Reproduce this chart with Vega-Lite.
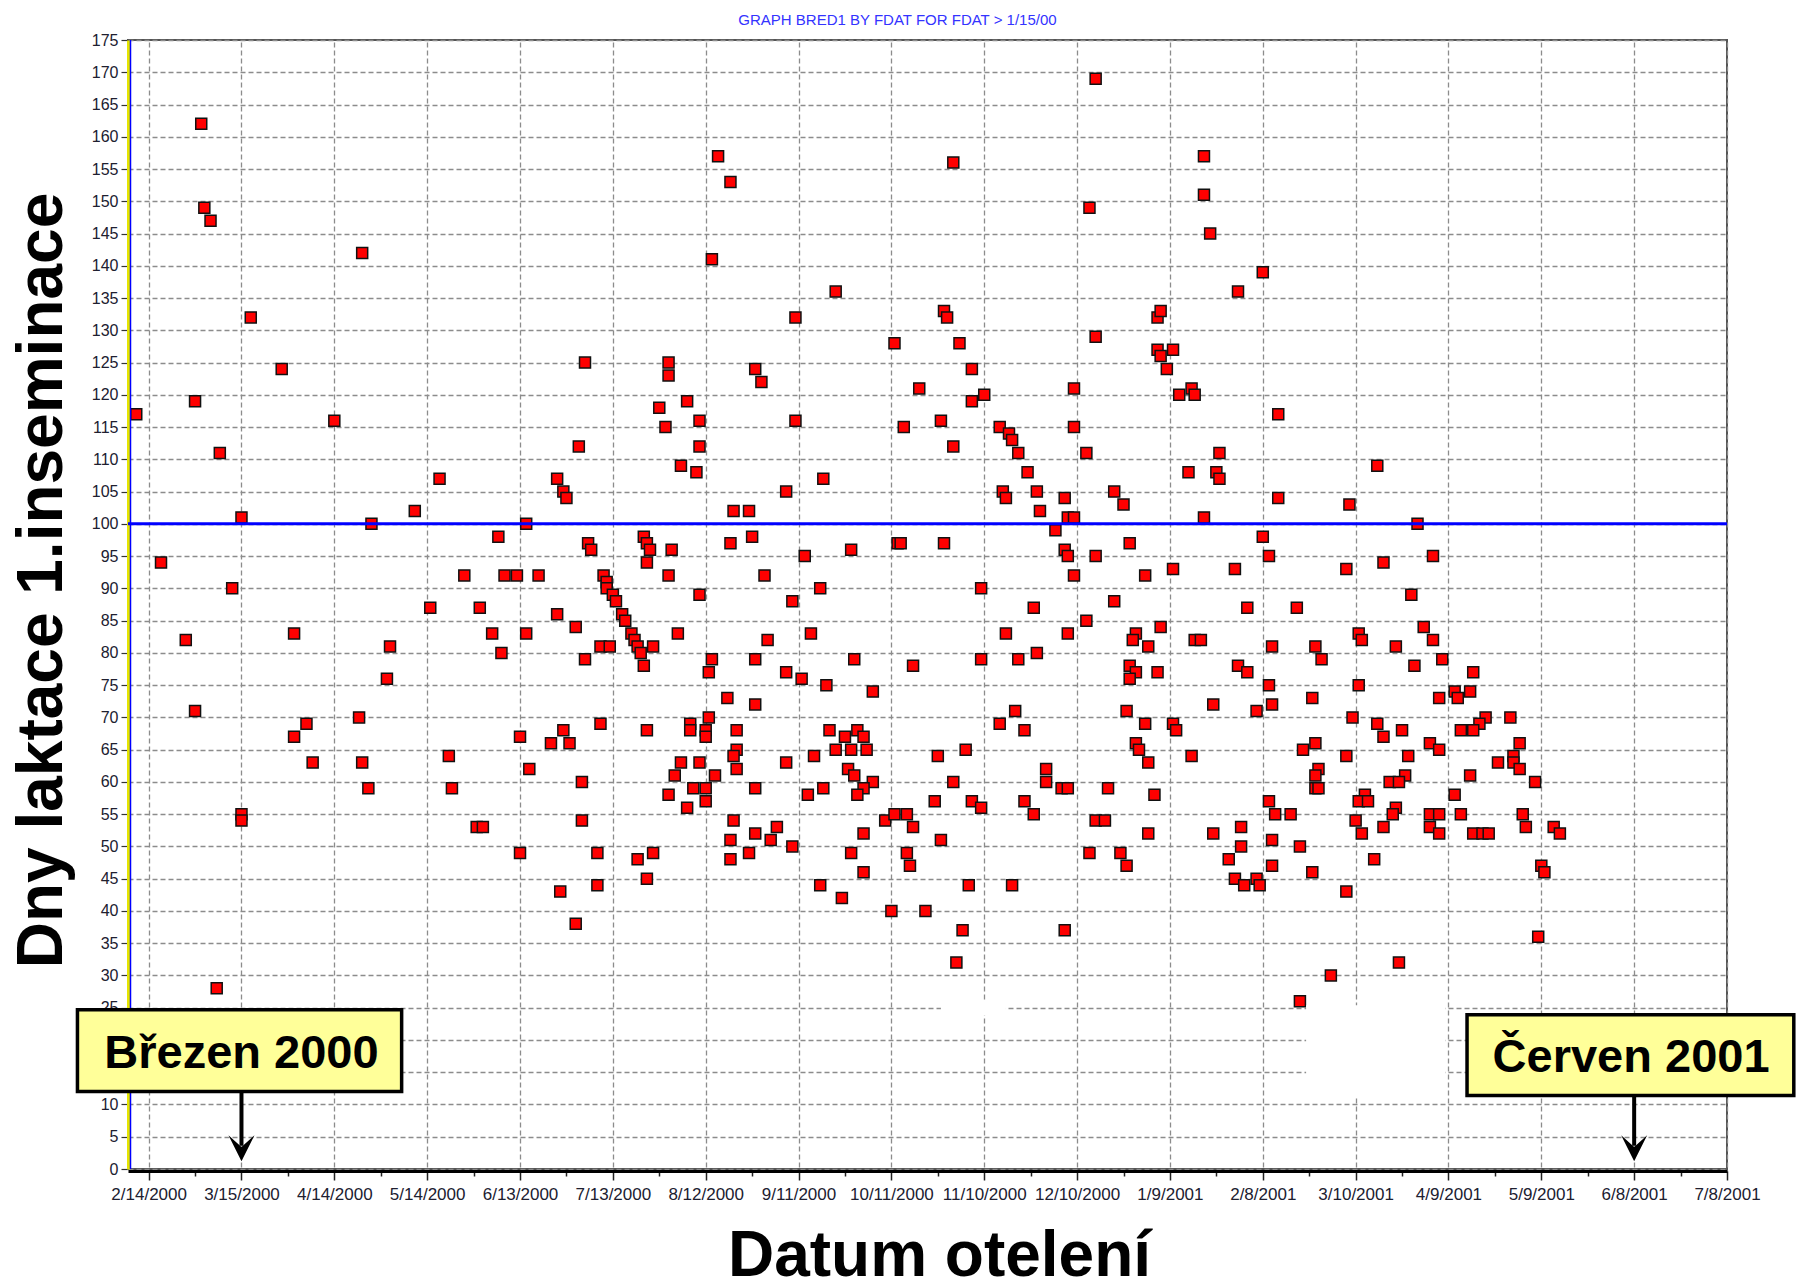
{
  "$schema": "https://vega.github.io/schema/vega-lite/v6.json",
  "width": 1599,
  "height": 1129,
  "autosize": {"type": "none"},
  "padding": {"left": 128, "top": 40, "right": 69, "bottom": 116},
  "background": "white",
  "config": {
    "view": {"stroke": "#555555", "strokeWidth": 2},
    "font": "Liberation Sans",
    "axis": {"labelOverlap": false, "labelFlush": false, "labelBound": false},
    "axisX": {
      "labelFont": "Liberation Sans Narrow, Liberation Sans", "labelFontSize": 17, "labelColor": "#202030", "labelPadding": 6,
      "tickColor": "#222222", "tickWidth": 1.5, "grid": true, "gridColor": "#8c8c8c", "gridDash": [5, 3], "gridWidth": 1.3,
      "domainColor": "#000000", "domainWidth": 3, "offset": 2,
      "titleFont": "Liberation Sans", "titleFontSize": 64, "titleFontWeight": "bold", "titleColor": "#000000"
    },
    "axisY": {
      "labelFont": "Liberation Sans Narrow, Liberation Sans", "labelFontSize": 16, "labelColor": "#202030", "labelPadding": 3,
      "tickSize": 7, "tickColor": "#333333", "tickWidth": 1.2, "grid": true, "gridColor": "#8c8c8c", "gridDash": [5, 3], "gridWidth": 1.3,
      "domainColor": "#e5e500", "domainWidth": 3,
      "titleFont": "Liberation Sans", "titleFontSize": 64, "titleFontWeight": "bold", "titleColor": "#000000"
    }
  },
  "title": {
    "text": "GRAPH BRED1 BY FDAT FOR FDAT > 1/15/00",
    "frame": "group",
    "anchor": "middle",
    "dx": -30,
    "offset": -8,
    "baseline": "alphabetic",
    "fontSize": 15,
    "fontWeight": "normal",
    "color": "#3333ff",
    "font": "Liberation Sans Narrow, Liberation Sans"
  },
  "data": {
    "values": [
      {"datum": "2000-03-02", "dny": 162}, {"datum": "2000-03-03", "dny": 149}, {"datum": "2000-03-05", "dny": 147}, {"datum": "2000-04-23", "dny": 142},
      {"datum": "2000-03-18", "dny": 132}, {"datum": "2000-03-28", "dny": 124}, {"datum": "2000-02-29", "dny": 119}, {"datum": "2000-02-10", "dny": 117},
      {"datum": "2000-04-14", "dny": 116}, {"datum": "2000-03-08", "dny": 111}, {"datum": "2000-05-18", "dny": 107}, {"datum": "2000-05-10", "dny": 102},
      {"datum": "2000-03-15", "dny": 101}, {"datum": "2000-04-26", "dny": 100}, {"datum": "2000-06-06", "dny": 98},
      {"datum": "2000-02-18", "dny": 94}, {"datum": "2000-05-26", "dny": 92}, {"datum": "2000-06-08", "dny": 92}, {"datum": "2000-06-12", "dny": 92},
      {"datum": "2000-03-12", "dny": 90}, {"datum": "2000-05-15", "dny": 87}, {"datum": "2000-05-31", "dny": 87}, {"datum": "2000-04-01", "dny": 83},
      {"datum": "2000-02-26", "dny": 82}, {"datum": "2000-06-04", "dny": 83}, {"datum": "2000-05-02", "dny": 81}, {"datum": "2000-06-07", "dny": 80},
      {"datum": "2000-05-01", "dny": 76}, {"datum": "2000-02-29", "dny": 71}, {"datum": "2000-04-22", "dny": 70}, {"datum": "2000-04-05", "dny": 69},
      {"datum": "2000-04-01", "dny": 67}, {"datum": "2000-06-13", "dny": 67}, {"datum": "2000-04-07", "dny": 63}, {"datum": "2000-04-23", "dny": 63},
      {"datum": "2000-05-21", "dny": 64}, {"datum": "2000-04-25", "dny": 59}, {"datum": "2000-05-22", "dny": 59}, {"datum": "2000-03-15", "dny": 55},
      {"datum": "2000-03-15", "dny": 54}, {"datum": "2000-05-30", "dny": 53}, {"datum": "2000-06-01", "dny": 53}, {"datum": "2000-06-13", "dny": 49},
      {"datum": "2000-03-07", "dny": 28},
      {"datum": "2000-08-16", "dny": 157}, {"datum": "2000-08-20", "dny": 153}, {"datum": "2000-08-14", "dny": 141}, {"datum": "2000-09-23", "dny": 136},
      {"datum": "2000-09-10", "dny": 132}, {"datum": "2000-10-12", "dny": 128}, {"datum": "2000-07-04", "dny": 125}, {"datum": "2000-07-31", "dny": 125},
      {"datum": "2000-07-31", "dny": 123}, {"datum": "2000-08-28", "dny": 124}, {"datum": "2000-08-30", "dny": 122}, {"datum": "2000-08-06", "dny": 119},
      {"datum": "2000-07-28", "dny": 118}, {"datum": "2000-07-30", "dny": 115}, {"datum": "2000-08-10", "dny": 116}, {"datum": "2000-09-10", "dny": 116},
      {"datum": "2000-10-15", "dny": 115}, {"datum": "2000-07-02", "dny": 112}, {"datum": "2000-08-10", "dny": 112}, {"datum": "2000-08-04", "dny": 109},
      {"datum": "2000-08-09", "dny": 108}, {"datum": "2000-06-25", "dny": 107}, {"datum": "2000-06-27", "dny": 105}, {"datum": "2000-06-28", "dny": 104},
      {"datum": "2000-09-19", "dny": 107}, {"datum": "2000-09-07", "dny": 105}, {"datum": "2000-08-21", "dny": 102}, {"datum": "2000-08-26", "dny": 102},
      {"datum": "2000-06-15", "dny": 100},
      {"datum": "2000-07-05", "dny": 97}, {"datum": "2000-07-06", "dny": 96}, {"datum": "2000-07-23", "dny": 98}, {"datum": "2000-07-24", "dny": 97},
      {"datum": "2000-07-25", "dny": 96}, {"datum": "2000-07-24", "dny": 94}, {"datum": "2000-08-01", "dny": 96}, {"datum": "2000-08-20", "dny": 97},
      {"datum": "2000-08-27", "dny": 98}, {"datum": "2000-09-13", "dny": 95}, {"datum": "2000-09-28", "dny": 96}, {"datum": "2000-10-13", "dny": 97},
      {"datum": "2000-06-19", "dny": 92}, {"datum": "2000-07-10", "dny": 92}, {"datum": "2000-07-11", "dny": 91}, {"datum": "2000-07-11", "dny": 90},
      {"datum": "2000-07-31", "dny": 92}, {"datum": "2000-08-31", "dny": 92}, {"datum": "2000-07-13", "dny": 89}, {"datum": "2000-07-14", "dny": 88},
      {"datum": "2000-07-16", "dny": 86}, {"datum": "2000-07-17", "dny": 85}, {"datum": "2000-07-19", "dny": 83}, {"datum": "2000-07-20", "dny": 82},
      {"datum": "2000-07-21", "dny": 81}, {"datum": "2000-07-22", "dny": 80}, {"datum": "2000-07-23", "dny": 78}, {"datum": "2000-07-26", "dny": 81},
      {"datum": "2000-07-09", "dny": 81}, {"datum": "2000-07-12", "dny": 81}, {"datum": "2000-08-10", "dny": 89}, {"datum": "2000-06-25", "dny": 86},
      {"datum": "2000-07-01", "dny": 84}, {"datum": "2000-06-15", "dny": 83}, {"datum": "2000-08-03", "dny": 83}, {"datum": "2000-07-04", "dny": 79},
      {"datum": "2000-08-14", "dny": 79}, {"datum": "2000-08-13", "dny": 77}, {"datum": "2000-08-28", "dny": 79}, {"datum": "2000-09-01", "dny": 82},
      {"datum": "2000-09-09", "dny": 88}, {"datum": "2000-09-18", "dny": 90}, {"datum": "2000-09-15", "dny": 83}, {"datum": "2000-09-29", "dny": 79},
      {"datum": "2000-09-07", "dny": 77}, {"datum": "2000-09-12", "dny": 76}, {"datum": "2000-09-20", "dny": 75}, {"datum": "2000-10-05", "dny": 74},
      {"datum": "2000-08-19", "dny": 73}, {"datum": "2000-08-28", "dny": 72}, {"datum": "2000-07-09", "dny": 69}, {"datum": "2000-06-27", "dny": 68},
      {"datum": "2000-06-23", "dny": 66}, {"datum": "2000-06-29", "dny": 66}, {"datum": "2000-07-24", "dny": 68}, {"datum": "2000-08-07", "dny": 69},
      {"datum": "2000-08-07", "dny": 68}, {"datum": "2000-08-13", "dny": 70}, {"datum": "2000-08-12", "dny": 68}, {"datum": "2000-08-12", "dny": 67},
      {"datum": "2000-08-22", "dny": 68}, {"datum": "2000-08-22", "dny": 65}, {"datum": "2000-08-21", "dny": 64}, {"datum": "2000-08-22", "dny": 62},
      {"datum": "2000-08-04", "dny": 63}, {"datum": "2000-08-10", "dny": 63}, {"datum": "2000-08-02", "dny": 61}, {"datum": "2000-08-15", "dny": 61},
      {"datum": "2000-08-08", "dny": 59}, {"datum": "2000-08-12", "dny": 59}, {"datum": "2000-07-31", "dny": 58}, {"datum": "2000-08-12", "dny": 57},
      {"datum": "2000-08-06", "dny": 56}, {"datum": "2000-06-16", "dny": 62}, {"datum": "2000-07-03", "dny": 60}, {"datum": "2000-08-28", "dny": 59},
      {"datum": "2000-09-07", "dny": 63}, {"datum": "2000-09-16", "dny": 64}, {"datum": "2000-09-21", "dny": 68}, {"datum": "2000-09-26", "dny": 67},
      {"datum": "2000-09-30", "dny": 68}, {"datum": "2000-10-02", "dny": 67}, {"datum": "2000-09-23", "dny": 65}, {"datum": "2000-09-28", "dny": 65},
      {"datum": "2000-10-03", "dny": 65}, {"datum": "2000-09-27", "dny": 62}, {"datum": "2000-09-29", "dny": 61}, {"datum": "2000-10-05", "dny": 60},
      {"datum": "2000-10-02", "dny": 59}, {"datum": "2000-09-30", "dny": 58}, {"datum": "2000-09-19", "dny": 59}, {"datum": "2000-09-14", "dny": 58},
      {"datum": "2000-07-03", "dny": 54}, {"datum": "2000-08-21", "dny": 54}, {"datum": "2000-10-09", "dny": 54}, {"datum": "2000-10-12", "dny": 55},
      {"datum": "2000-08-28", "dny": 52}, {"datum": "2000-09-04", "dny": 53}, {"datum": "2000-08-20", "dny": 51}, {"datum": "2000-09-02", "dny": 51},
      {"datum": "2000-09-09", "dny": 50}, {"datum": "2000-10-02", "dny": 52}, {"datum": "2000-08-26", "dny": 49}, {"datum": "2000-08-20", "dny": 48},
      {"datum": "2000-07-08", "dny": 49}, {"datum": "2000-07-21", "dny": 48}, {"datum": "2000-07-26", "dny": 49}, {"datum": "2000-07-24", "dny": 45},
      {"datum": "2000-06-26", "dny": 43}, {"datum": "2000-07-08", "dny": 44}, {"datum": "2000-07-01", "dny": 38}, {"datum": "2000-09-28", "dny": 49},
      {"datum": "2000-10-02", "dny": 46}, {"datum": "2000-09-18", "dny": 44}, {"datum": "2000-09-25", "dny": 42}, {"datum": "2000-10-11", "dny": 40},
      {"datum": "2000-12-16", "dny": 169}, {"datum": "2000-10-31", "dny": 156}, {"datum": "2001-01-20", "dny": 157}, {"datum": "2001-01-20", "dny": 151},
      {"datum": "2000-12-14", "dny": 149}, {"datum": "2001-01-22", "dny": 145}, {"datum": "2001-02-08", "dny": 139}, {"datum": "2001-01-31", "dny": 136},
      {"datum": "2000-10-28", "dny": 133}, {"datum": "2000-10-29", "dny": 132}, {"datum": "2000-11-02", "dny": 128}, {"datum": "2000-11-06", "dny": 124},
      {"datum": "2000-10-20", "dny": 121}, {"datum": "2000-11-06", "dny": 119}, {"datum": "2000-11-10", "dny": 120}, {"datum": "2000-10-27", "dny": 116},
      {"datum": "2000-10-31", "dny": 112}, {"datum": "2000-11-15", "dny": 115}, {"datum": "2000-11-18", "dny": 114}, {"datum": "2000-11-19", "dny": 113},
      {"datum": "2000-11-21", "dny": 111}, {"datum": "2000-11-24", "dny": 108}, {"datum": "2000-11-16", "dny": 105}, {"datum": "2000-11-17", "dny": 104},
      {"datum": "2000-11-27", "dny": 105}, {"datum": "2000-11-28", "dny": 102}, {"datum": "2000-12-06", "dny": 104}, {"datum": "2000-12-07", "dny": 101},
      {"datum": "2000-12-09", "dny": 101}, {"datum": "2000-12-03", "dny": 99}, {"datum": "2000-12-09", "dny": 121}, {"datum": "2000-12-09", "dny": 115},
      {"datum": "2000-12-13", "dny": 111}, {"datum": "2000-12-16", "dny": 129}, {"datum": "2000-12-22", "dny": 105}, {"datum": "2000-12-25", "dny": 103},
      {"datum": "2001-01-05", "dny": 132}, {"datum": "2001-01-06", "dny": 133}, {"datum": "2001-01-05", "dny": 127}, {"datum": "2001-01-10", "dny": 127},
      {"datum": "2001-01-06", "dny": 126}, {"datum": "2001-01-08", "dny": 124}, {"datum": "2001-01-12", "dny": 120}, {"datum": "2001-01-16", "dny": 121},
      {"datum": "2001-01-17", "dny": 120}, {"datum": "2001-02-13", "dny": 117}, {"datum": "2001-01-25", "dny": 111}, {"datum": "2001-01-15", "dny": 108},
      {"datum": "2001-01-24", "dny": 108}, {"datum": "2001-01-25", "dny": 107}, {"datum": "2001-01-20", "dny": 101}, {"datum": "2001-02-13", "dny": 104},
      {"datum": "2000-10-14", "dny": 97}, {"datum": "2000-10-28", "dny": 97}, {"datum": "2000-12-06", "dny": 96}, {"datum": "2000-12-07", "dny": 95},
      {"datum": "2000-12-09", "dny": 92}, {"datum": "2000-12-16", "dny": 95}, {"datum": "2000-12-27", "dny": 97}, {"datum": "2001-01-01", "dny": 92},
      {"datum": "2001-01-10", "dny": 93}, {"datum": "2001-02-08", "dny": 98}, {"datum": "2001-01-30", "dny": 93}, {"datum": "2001-02-10", "dny": 95},
      {"datum": "2000-11-09", "dny": 90}, {"datum": "2000-11-26", "dny": 87}, {"datum": "2000-12-22", "dny": 88}, {"datum": "2001-02-03", "dny": 87},
      {"datum": "2000-11-17", "dny": 83}, {"datum": "2000-12-07", "dny": 83}, {"datum": "2000-12-13", "dny": 85}, {"datum": "2000-12-29", "dny": 83},
      {"datum": "2000-12-28", "dny": 82}, {"datum": "2001-01-02", "dny": 81}, {"datum": "2001-01-06", "dny": 84}, {"datum": "2001-01-17", "dny": 82},
      {"datum": "2001-01-19", "dny": 82}, {"datum": "2001-02-11", "dny": 81}, {"datum": "2000-10-18", "dny": 78}, {"datum": "2000-11-09", "dny": 79},
      {"datum": "2000-11-21", "dny": 79}, {"datum": "2000-11-27", "dny": 80}, {"datum": "2000-12-27", "dny": 78}, {"datum": "2000-12-29", "dny": 77},
      {"datum": "2000-12-27", "dny": 76}, {"datum": "2001-01-05", "dny": 77}, {"datum": "2001-01-31", "dny": 78}, {"datum": "2001-02-03", "dny": 77},
      {"datum": "2001-02-10", "dny": 75}, {"datum": "2001-01-23", "dny": 72}, {"datum": "2001-02-06", "dny": 71}, {"datum": "2001-02-11", "dny": 72},
      {"datum": "2000-11-20", "dny": 71}, {"datum": "2000-11-15", "dny": 69}, {"datum": "2000-11-23", "dny": 68}, {"datum": "2000-12-26", "dny": 71},
      {"datum": "2001-01-01", "dny": 69}, {"datum": "2001-01-10", "dny": 69}, {"datum": "2001-01-11", "dny": 68}, {"datum": "2000-12-29", "dny": 66},
      {"datum": "2000-12-30", "dny": 65}, {"datum": "2001-01-02", "dny": 63}, {"datum": "2001-01-16", "dny": 64}, {"datum": "2000-10-26", "dny": 64},
      {"datum": "2000-11-04", "dny": 65}, {"datum": "2000-11-30", "dny": 62}, {"datum": "2000-11-30", "dny": 60}, {"datum": "2000-10-31", "dny": 60},
      {"datum": "2000-12-05", "dny": 59}, {"datum": "2000-12-07", "dny": 59}, {"datum": "2000-12-20", "dny": 59}, {"datum": "2001-01-04", "dny": 58},
      {"datum": "2000-10-25", "dny": 57}, {"datum": "2000-11-06", "dny": 57}, {"datum": "2000-11-09", "dny": 56}, {"datum": "2000-11-23", "dny": 57},
      {"datum": "2000-11-26", "dny": 55}, {"datum": "2000-10-16", "dny": 55}, {"datum": "2000-10-18", "dny": 53}, {"datum": "2000-10-27", "dny": 51},
      {"datum": "2000-10-16", "dny": 49}, {"datum": "2000-10-17", "dny": 47}, {"datum": "2000-11-05", "dny": 44}, {"datum": "2000-11-19", "dny": 44},
      {"datum": "2000-10-22", "dny": 40}, {"datum": "2000-11-03", "dny": 37}, {"datum": "2000-11-01", "dny": 32}, {"datum": "2000-12-06", "dny": 37},
      {"datum": "2000-12-16", "dny": 54}, {"datum": "2000-12-19", "dny": 54}, {"datum": "2001-01-02", "dny": 52}, {"datum": "2000-12-14", "dny": 49},
      {"datum": "2000-12-24", "dny": 49}, {"datum": "2000-12-26", "dny": 47}, {"datum": "2001-01-23", "dny": 52}, {"datum": "2001-02-01", "dny": 53},
      {"datum": "2001-02-01", "dny": 50}, {"datum": "2001-01-28", "dny": 48}, {"datum": "2001-01-30", "dny": 45}, {"datum": "2001-02-02", "dny": 44},
      {"datum": "2001-02-06", "dny": 45}, {"datum": "2001-02-07", "dny": 44}, {"datum": "2001-02-10", "dny": 57}, {"datum": "2001-02-12", "dny": 55},
      {"datum": "2001-02-11", "dny": 51}, {"datum": "2001-02-11", "dny": 47},
      {"datum": "2001-03-17", "dny": 109}, {"datum": "2001-03-08", "dny": 103}, {"datum": "2001-03-30", "dny": 100},
      {"datum": "2001-03-07", "dny": 93}, {"datum": "2001-03-19", "dny": 94}, {"datum": "2001-04-04", "dny": 95}, {"datum": "2001-03-28", "dny": 89},
      {"datum": "2001-02-19", "dny": 87}, {"datum": "2001-03-11", "dny": 83}, {"datum": "2001-03-12", "dny": 82}, {"datum": "2001-04-01", "dny": 84},
      {"datum": "2001-04-04", "dny": 82}, {"datum": "2001-02-25", "dny": 81}, {"datum": "2001-02-27", "dny": 79}, {"datum": "2001-03-23", "dny": 81},
      {"datum": "2001-03-29", "dny": 78}, {"datum": "2001-04-07", "dny": 79}, {"datum": "2001-04-17", "dny": 77}, {"datum": "2001-03-11", "dny": 75},
      {"datum": "2001-02-24", "dny": 73}, {"datum": "2001-04-06", "dny": 73}, {"datum": "2001-04-11", "dny": 74}, {"datum": "2001-04-12", "dny": 73},
      {"datum": "2001-04-16", "dny": 74}, {"datum": "2001-03-09", "dny": 70}, {"datum": "2001-03-17", "dny": 69}, {"datum": "2001-03-19", "dny": 67},
      {"datum": "2001-03-25", "dny": 68}, {"datum": "2001-04-21", "dny": 70}, {"datum": "2001-04-19", "dny": 69}, {"datum": "2001-04-13", "dny": 68},
      {"datum": "2001-04-17", "dny": 68}, {"datum": "2001-04-29", "dny": 70}, {"datum": "2001-02-25", "dny": 66}, {"datum": "2001-02-21", "dny": 65},
      {"datum": "2001-03-07", "dny": 64}, {"datum": "2001-04-03", "dny": 66}, {"datum": "2001-04-06", "dny": 65}, {"datum": "2001-03-27", "dny": 64},
      {"datum": "2001-05-02", "dny": 66}, {"datum": "2001-04-30", "dny": 64}, {"datum": "2001-04-30", "dny": 63}, {"datum": "2001-05-02", "dny": 62},
      {"datum": "2001-04-25", "dny": 63}, {"datum": "2001-05-07", "dny": 60}, {"datum": "2001-02-26", "dny": 62}, {"datum": "2001-02-25", "dny": 61},
      {"datum": "2001-02-25", "dny": 59}, {"datum": "2001-02-26", "dny": 59}, {"datum": "2001-03-26", "dny": 61}, {"datum": "2001-03-21", "dny": 60},
      {"datum": "2001-03-24", "dny": 60}, {"datum": "2001-04-16", "dny": 61}, {"datum": "2001-04-11", "dny": 58}, {"datum": "2001-02-17", "dny": 55},
      {"datum": "2001-02-20", "dny": 50}, {"datum": "2001-02-24", "dny": 46}, {"datum": "2001-03-07", "dny": 43}, {"datum": "2001-03-13", "dny": 58},
      {"datum": "2001-03-11", "dny": 57}, {"datum": "2001-03-14", "dny": 57}, {"datum": "2001-03-10", "dny": 54}, {"datum": "2001-03-12", "dny": 52},
      {"datum": "2001-03-23", "dny": 56}, {"datum": "2001-03-22", "dny": 55}, {"datum": "2001-03-19", "dny": 53}, {"datum": "2001-03-16", "dny": 48},
      {"datum": "2001-04-03", "dny": 55}, {"datum": "2001-04-06", "dny": 55}, {"datum": "2001-04-03", "dny": 53}, {"datum": "2001-04-06", "dny": 52},
      {"datum": "2001-04-13", "dny": 55}, {"datum": "2001-04-17", "dny": 52}, {"datum": "2001-04-20", "dny": 52}, {"datum": "2001-04-22", "dny": 52},
      {"datum": "2001-05-03", "dny": 55}, {"datum": "2001-05-04", "dny": 53}, {"datum": "2001-05-13", "dny": 53}, {"datum": "2001-05-15", "dny": 52},
      {"datum": "2001-05-09", "dny": 47}, {"datum": "2001-05-10", "dny": 46}, {"datum": "2001-05-08", "dny": 36}, {"datum": "2001-03-24", "dny": 32},
      {"datum": "2001-03-02", "dny": 30}, {"datum": "2001-02-20", "dny": 26}
    ]
  },
  "layer": [
    {
      "mark": {"type": "point", "shape": "square", "filled": true, "fill": "#ff0000", "stroke": "#111111", "strokeWidth": 1.5, "size": 121, "opacity": 1},
      "encoding": {
        "x": {
          "field": "datum", "type": "temporal",
          "scale": {"type": "utc", "domain": [{"year": 2000, "month": 2, "date": 7, "hours": 8, "utc": true}, {"year": 2001, "month": 7, "date": 8, "utc": true}]},
          "axis": {
            "values": [950486400000, 951134400000, 951782400000, 952430400000, 953078400000, 953726400000, 954374400000, 955022400000, 955670400000, 956318400000, 956966400000, 957614400000, 958262400000, 958910400000, 959558400000, 960206400000, 960854400000, 961502400000, 962150400000, 962798400000, 963446400000, 964094400000, 964742400000, 965390400000, 966038400000, 966686400000, 967334400000, 967982400000, 968630400000, 969278400000, 969926400000, 970574400000, 971222400000, 971870400000, 972518400000, 973166400000, 973814400000, 974462400000, 975110400000, 975758400000, 976406400000, 977054400000, 977702400000, 978350400000, 978998400000, 979646400000, 980294400000, 980942400000, 981590400000, 982238400000, 982886400000, 983534400000, 984182400000, 984830400000, 985478400000, 986126400000, 986774400000, 987422400000, 988070400000, 988718400000, 989366400000, 990014400000, 990662400000, 991310400000, 991958400000, 992606400000, 993254400000, 993902400000, 994550400000],
            "labelExpr": "((datum.value - 950486400000) % 2592000000 === 0) ? utcFormat(datum.value, '%-m/%-d/%Y') : ''",
            "labelOverlap": false,
            "tickSize": {"condition": {"test": "(datum.value - 950486400000) % 2592000000 === 0", "value": 9}, "value": 5},
            "gridOpacity": {"condition": {"test": "(datum.value - 950486400000) % 2592000000 === 0", "value": 1}, "value": 0},
            "title": "Datum otelení",
            "titleAlign": "center",
            "titleBaseline": "alphabetic",
            "titleX": 811,
            "titleY": 104
          }
        },
        "y": {
          "field": "dny", "type": "quantitative",
          "scale": {"domain": [0, 175], "nice": false, "zero": false},
          "axis": {
            "values": [0, 5, 10, 15, 20, 25, 30, 35, 40, 45, 50, 55, 60, 65, 70, 75, 80, 85, 90, 95, 100, 105, 110, 115, 120, 125, 130, 135, 140, 145, 150, 155, 160, 165, 170, 175],
            "labelOverlap": false,
            "title": "Dny laktace 1.inseminace",
            "titleAngle": 270,
            "titleAlign": "center",
            "titleBaseline": "alphabetic",
            "titleX": -67,
            "titleY": 540
          }
        }
      }
    },
    {
      "data": {"values": [{}]},
      "mark": {"type": "rect", "fill": "white", "strokeWidth": 0},
      "encoding": {
        "x": {"datum": {"year": 2000, "month": 10, "date": 27, "utc": true}, "type": "temporal"},
        "x2": {"datum": {"year": 2000, "month": 11, "date": 17, "utc": true}},
        "y": {"datum": 23.8, "type": "quantitative", "axis": {"values": [0, 5, 10, 15, 20, 25, 30, 35, 40, 45, 50, 55, 60, 65, 70, 75, 80, 85, 90, 95, 100, 105, 110, 115, 120, 125, 130, 135, 140, 145, 150, 155, 160, 165, 170, 175], "labelOverlap": false}},
        "y2": {"datum": 26.2}
      }
    },
    {
      "data": {"values": [{}]},
      "mark": {"type": "rect", "fill": "white", "strokeWidth": 0},
      "encoding": {
        "x": {"datum": {"year": 2001, "month": 2, "date": 22, "utc": true}, "type": "temporal"},
        "x2": {"datum": {"year": 2001, "month": 4, "date": 8, "utc": true}},
        "y": {"datum": 11.2, "type": "quantitative", "axis": {"values": [0, 5, 10, 15, 20, 25, 30, 35, 40, 45, 50, 55, 60, 65, 70, 75, 80, 85, 90, 95, 100, 105, 110, 115, 120, 125, 130, 135, 140, 145, 150, 155, 160, 165, 170, 175], "labelOverlap": false}},
        "y2": {"datum": 25.4}
      }
    },
    {
      "data": {"values": [{}]},
      "mark": {"type": "rule", "color": "#0000ff", "strokeWidth": 3},
      "encoding": {
        "y": {"datum": 100, "type": "quantitative", "axis": {"values": [0, 5, 10, 15, 20, 25, 30, 35, 40, 45, 50, 55, 60, 65, 70, 75, 80, 85, 90, 95, 100, 105, 110, 115, 120, 125, 130, 135, 140, 145, 150, 155, 160, 165, 170, 175], "labelOverlap": false}}
      }
    },
    {
      "data": {"values": [{}]},
      "mark": {"type": "rule", "color": "#0000ff", "strokeWidth": 1.5, "xOffset": 2.5},
      "encoding": {
        "x": {"datum": {"year": 2000, "month": 2, "date": 7, "hours": 8, "utc": true}, "type": "temporal"}
      }
    },
    {
      "data": {"values": [{}]},
      "mark": {"type": "rect", "fill": "#ffff99", "stroke": "#000000", "strokeWidth": 3.5},
      "encoding": {
        "x": {"datum": {"year": 2000, "month": 1, "date": 22, "utc": true}, "type": "temporal"},
        "x2": {"datum": {"year": 2000, "month": 5, "date": 5, "hours": 18, "utc": true}},
        "y": {"datum": 12.0, "type": "quantitative", "axis": {"values": [0, 5, 10, 15, 20, 25, 30, 35, 40, 45, 50, 55, 60, 65, 70, 75, 80, 85, 90, 95, 100, 105, 110, 115, 120, 125, 130, 135, 140, 145, 150, 155, 160, 165, 170, 175], "labelOverlap": false}},
        "y2": {"datum": 24.7}
      }
    },
    {
      "data": {"values": [{}]},
      "mark": {"type": "text", "text": "Březen 2000", "font": "Liberation Sans", "fontSize": 47, "fontWeight": "bold", "color": "#000000", "align": "center", "baseline": "alphabetic"},
      "encoding": {
        "x": {"datum": {"year": 2000, "month": 3, "date": 15, "utc": true}, "type": "temporal"},
        "y": {"datum": 15.7, "type": "quantitative", "axis": {"values": [0, 5, 10, 15, 20, 25, 30, 35, 40, 45, 50, 55, 60, 65, 70, 75, 80, 85, 90, 95, 100, 105, 110, 115, 120, 125, 130, 135, 140, 145, 150, 155, 160, 165, 170, 175], "labelOverlap": false}}
      }
    },
    {
      "data": {"values": [{}]},
      "mark": {"type": "rule", "color": "#000000", "strokeWidth": 4},
      "encoding": {
        "x": {"datum": {"year": 2000, "month": 3, "date": 15, "utc": true}, "type": "temporal"},
        "y": {"datum": 11.8, "type": "quantitative", "axis": {"values": [0, 5, 10, 15, 20, 25, 30, 35, 40, 45, 50, 55, 60, 65, 70, 75, 80, 85, 90, 95, 100, 105, 110, 115, 120, 125, 130, 135, 140, 145, 150, 155, 160, 165, 170, 175], "labelOverlap": false}},
        "y2": {"datum": 3.6}
      }
    },
    {
      "data": {"values": [{}]},
      "mark": {"type": "point", "shape": "M0,1L-1,-1L0,-0.1L1,-1Z", "filled": true, "fill": "#000000", "strokeWidth": 0, "size": 676, "opacity": 1},
      "encoding": {
        "x": {"datum": {"year": 2000, "month": 3, "date": 15, "utc": true}, "type": "temporal"},
        "y": {"datum": 3.2, "type": "quantitative", "axis": {"values": [0, 5, 10, 15, 20, 25, 30, 35, 40, 45, 50, 55, 60, 65, 70, 75, 80, 85, 90, 95, 100, 105, 110, 115, 120, 125, 130, 135, 140, 145, 150, 155, 160, 165, 170, 175], "labelOverlap": false}}
      }
    },
    {
      "data": {"values": [{}]},
      "mark": {"type": "rect", "fill": "#ffff99", "stroke": "#000000", "strokeWidth": 3.5},
      "encoding": {
        "x": {"datum": {"year": 2001, "month": 4, "date": 15, "utc": true}, "type": "temporal"},
        "x2": {"datum": {"year": 2001, "month": 7, "date": 29, "hours": 14, "utc": true}},
        "y": {"datum": 11.4, "type": "quantitative", "axis": {"values": [0, 5, 10, 15, 20, 25, 30, 35, 40, 45, 50, 55, 60, 65, 70, 75, 80, 85, 90, 95, 100, 105, 110, 115, 120, 125, 130, 135, 140, 145, 150, 155, 160, 165, 170, 175], "labelOverlap": false}},
        "y2": {"datum": 23.9}
      }
    },
    {
      "data": {"values": [{}]},
      "mark": {"type": "text", "text": "Červen 2001", "font": "Liberation Sans", "fontSize": 47, "fontWeight": "bold", "color": "#000000", "align": "center", "baseline": "alphabetic"},
      "encoding": {
        "x": {"datum": {"year": 2001, "month": 6, "date": 7, "utc": true}, "type": "temporal"},
        "y": {"datum": 15.1, "type": "quantitative", "axis": {"values": [0, 5, 10, 15, 20, 25, 30, 35, 40, 45, 50, 55, 60, 65, 70, 75, 80, 85, 90, 95, 100, 105, 110, 115, 120, 125, 130, 135, 140, 145, 150, 155, 160, 165, 170, 175], "labelOverlap": false}}
      }
    },
    {
      "data": {"values": [{}]},
      "mark": {"type": "rule", "color": "#000000", "strokeWidth": 4},
      "encoding": {
        "x": {"datum": {"year": 2001, "month": 6, "date": 8, "utc": true}, "type": "temporal"},
        "y": {"datum": 11.2, "type": "quantitative", "axis": {"values": [0, 5, 10, 15, 20, 25, 30, 35, 40, 45, 50, 55, 60, 65, 70, 75, 80, 85, 90, 95, 100, 105, 110, 115, 120, 125, 130, 135, 140, 145, 150, 155, 160, 165, 170, 175], "labelOverlap": false}},
        "y2": {"datum": 3.6}
      }
    },
    {
      "data": {"values": [{}]},
      "mark": {"type": "point", "shape": "M0,1L-1,-1L0,-0.1L1,-1Z", "filled": true, "fill": "#000000", "strokeWidth": 0, "size": 676, "opacity": 1},
      "encoding": {
        "x": {"datum": {"year": 2001, "month": 6, "date": 8, "utc": true}, "type": "temporal"},
        "y": {"datum": 3.2, "type": "quantitative", "axis": {"values": [0, 5, 10, 15, 20, 25, 30, 35, 40, 45, 50, 55, 60, 65, 70, 75, 80, 85, 90, 95, 100, 105, 110, 115, 120, 125, 130, 135, 140, 145, 150, 155, 160, 165, 170, 175], "labelOverlap": false}}
      }
    }
  ]
}
